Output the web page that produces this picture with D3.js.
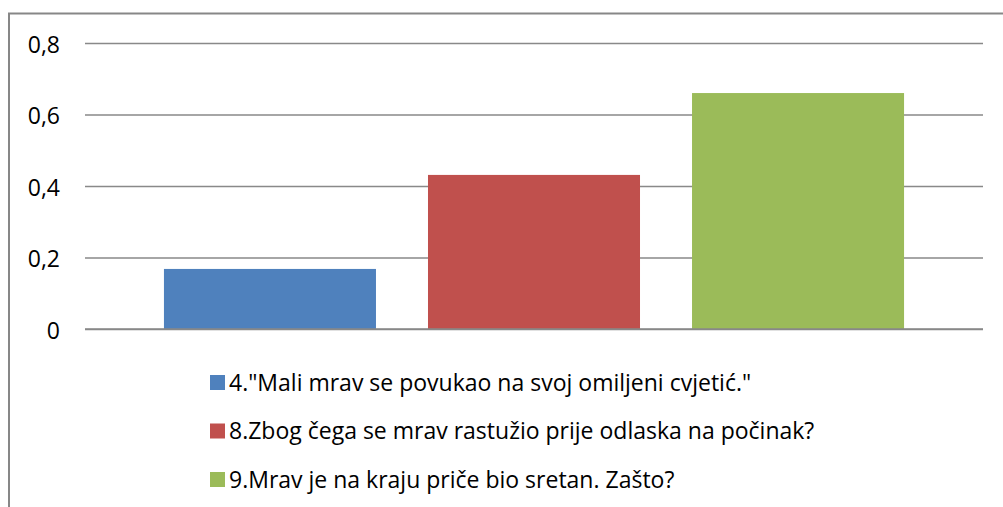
<!DOCTYPE html>
<html><head><meta charset="utf-8">
<script src="https://cdn.jsdelivr.net/npm/d3@7"></script>
<style>html,body{margin:0;padding:0;background:#fff;}</style>
</head><body>
<svg id="c" width="1003" height="507"></svg>
<script>
const categories = ['4."Mali mrav se povukao na svoj omiljeni cvjetić."', '8.Zbog čega se mrav rastužio prije odlaska na počinak?', '9.Mrav je na kraju priče bio sretan. Zašto?'];
const values = [0.168, 0.431, 0.66];
const colors = ['#4f81bd', '#c0504d', '#9bbb59'];
const yTicks = [0, 0.2, 0.4, 0.6, 0.8];

const svg = d3.select('#c');
const font = '"Open Sans", sans-serif';
svg.append('rect').attr('x', 9).attr('y', 13.5).attr('width', 1003).attr('height', 600)
  .attr('fill', '#fff').attr('stroke', '#878787').attr('stroke-width', 2);

const y = d3.scaleLinear().domain([0, 0.8]).range([329, 43]);
const x = d3.scaleBand().domain(categories).range([85, 983]).paddingInner(0.197).paddingOuter(0.299);

const yAxis = d3.axisLeft(y).tickValues(yTicks).tickSize(-(983 - 85)).tickPadding(25)
  .tickFormat(d => d3.format('.1f')(d).replace('.', ',').replace(/^0,0$/, '0'));
const g = svg.append('g').attr('transform', 'translate(85,0)').call(yAxis);
g.select('.domain').remove();
g.selectAll('.tick line').attr('stroke', '#898989').attr('stroke-width', 1.5);
g.selectAll('.tick text').attr('fill', '#000').attr('dy', '0.4em').style('font-family', font).style('font-size', '23px');

svg.append('g').selectAll('rect').data(categories).join('rect')
  .attr('x', d => x(d)).attr('width', x.bandwidth())
  .attr('y', (d, i) => y(values[i])).attr('height', (d, i) => y(0) - y(values[i]))
  .attr('fill', (d, i) => colors[i]);

svg.append('line').attr('x1', 85).attr('x2', 983).attr('y1', y(0)).attr('y2', y(0))
  .attr('stroke', '#898989').attr('stroke-width', 1.5);

const leg = svg.append('g');
categories.forEach((c, i) => {
  const yy = 382.5 + i * 48.5;
  leg.append('rect').attr('x', 210).attr('y', yy - 7.5).attr('width', 15).attr('height', 15).attr('fill', colors[i]);
  leg.append('text').attr('x', 229).attr('y', yy).attr('dy', '0.36em')
    .style('font-family', font).style('font-size', '23px').attr('fill', '#000').text(c);
});
</script>
</body></html>
